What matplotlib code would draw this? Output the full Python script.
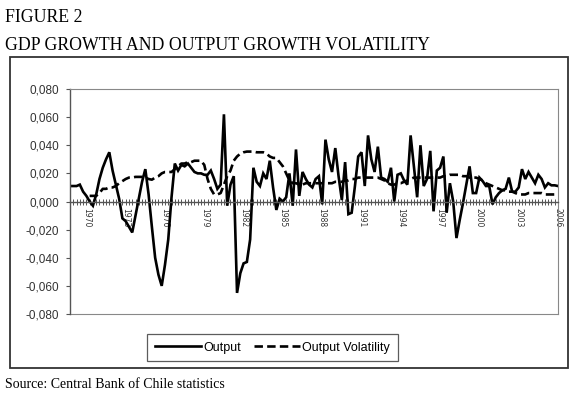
import numpy as np
import matplotlib
matplotlib.use("Agg")
from matplotlib import pyplot as plt
from matplotlib.patches import Rectangle

# Quarterly series
output_growth = [
    0.011, 0.011, 0.011, 0.012, 0.007, 0.004, 0.000, -0.003, 0.005, 0.016,
    0.024, 0.030, 0.035, 0.022, 0.012, 0.002, -0.012, -0.014, -0.018, -0.022,
    -0.010, 0.002, 0.014, 0.023, 0.005, -0.018, -0.040, -0.052, -0.060, -0.045,
    -0.027, 0.003, 0.027, 0.022, 0.026, 0.025, 0.027, 0.024, 0.021, 0.020,
    0.020, 0.019, 0.019, 0.022, 0.016, 0.009, 0.012, 0.062, -0.003, 0.012,
    0.018, -0.065, -0.051, -0.044, -0.043, -0.027, 0.024, 0.014, 0.011, 0.020,
    0.016, 0.029, 0.010, -0.006, 0.002, 0.000, 0.003, 0.020, -0.003, 0.037,
    0.004, 0.021, 0.016, 0.012, 0.010, 0.016, 0.018, -0.002, 0.044, 0.030,
    0.021, 0.038, 0.018, 0.001, 0.028, -0.009, -0.008, 0.011, 0.032, 0.035,
    0.011, 0.047, 0.030, 0.021, 0.039, 0.017, 0.016, 0.014, 0.024, 0.000,
    0.019, 0.020, 0.015, 0.012, 0.047, 0.025, 0.003, 0.040, 0.011, 0.016,
    0.036, -0.007, 0.022, 0.024, 0.032, -0.008, 0.013, 0.000, -0.026, -0.013,
    -0.001, 0.012, 0.025, 0.006, 0.006, 0.017, 0.0145, 0.011, 0.011, -0.002,
    0.003, 0.006, 0.008, 0.009, 0.017, 0.007, 0.007, 0.010, 0.023, 0.016,
    0.021, 0.017, 0.013, 0.019, 0.016, 0.010, 0.013, 0.0115, 0.0115, 0.011,
]

output_volatility = [
    None, None, None, None, None, None, 0.004, 0.004, 0.004, 0.006,
    0.009, 0.009, 0.010, 0.010, 0.011, 0.013, 0.0145, 0.016, 0.017, 0.017,
    0.0175, 0.0175, 0.0175, 0.017, 0.016, 0.0155, 0.017, 0.018, 0.020, 0.021,
    0.021, 0.021, 0.023, 0.025, 0.027, 0.027, 0.028, 0.028, 0.029, 0.029,
    0.029, 0.026, 0.016, 0.009, 0.005, 0.005, 0.006, 0.012, 0.018, 0.022,
    0.029, 0.032, 0.034, 0.035, 0.0355, 0.0355, 0.0355, 0.035, 0.035, 0.035,
    0.034, 0.032, 0.031, 0.031, 0.028, 0.025, 0.020, 0.015, 0.013, 0.013,
    0.012, 0.012, 0.013, 0.013, 0.013, 0.013, 0.013, 0.013, 0.013, 0.013,
    0.013, 0.014, 0.014, 0.014, 0.015, 0.015, 0.016, 0.016, 0.017, 0.017,
    0.017, 0.017, 0.017, 0.017, 0.017, 0.016, 0.015, 0.013, 0.012, 0.012,
    0.013, 0.013, 0.014, 0.015, 0.016, 0.017, 0.017, 0.017, 0.017, 0.017,
    0.017, 0.017, 0.017, 0.017, 0.018, 0.018, 0.019, 0.019, 0.019, 0.019,
    0.018, 0.018, 0.017, 0.017, 0.017, 0.016, 0.015, 0.013, 0.012, 0.011,
    0.010, 0.009, 0.008, 0.008, 0.007, 0.007, 0.006, 0.005, 0.005, 0.005,
    0.006, 0.006, 0.006, 0.006, 0.006, 0.005, 0.005, 0.005, 0.005, 0.005,
]

year_labels = ["1970", "1973", "1976", "1979", "1982", "1985", "1988",
               "1991", "1994", "1997", "2000", "2003", "2006"]
y_ticks = [-0.08, -0.06, -0.04, -0.02, 0.0, 0.02, 0.04, 0.06, 0.08]

W, H = 575, 398
SERIF = ["Liberation Serif", "DejaVu Serif"]
SANS = ["Liberation Sans", "DejaVu Sans"]

n = len(output_growth)
x = np.arange(n)
vol = np.array([np.nan if v is None else v for v in output_volatility], dtype=float)

fig = plt.figure(figsize=(W / 100, H / 100), dpi=100)

# outer chart frame
fig.patches.append(Rectangle((10 / W, 1 - 368 / H), 558 / W, 311 / H, transform=fig.transFigure,
                             fill=False, lw=1.3, ec="#333333"))

fig.text(5 / W, 1 - 18 / H, "FIGURE 2", family=SERIF, fontsize=12.8, va="center", ha="left")
fig.text(5 / W, 1 - 45 / H, "GDP GROWTH AND OUTPUT GROWTH VOLATILITY", family=SERIF, fontsize=12.8,
         va="center", ha="left")
fig.text(5 / W, 1 - 385 / H, "Source: Central Bank of Chile statistics", family=SERIF, fontsize=10,
         va="center", ha="left")

ax = fig.add_axes([70 / W, 1 - 314 / H, 488 / W, 225 / H])
out_line, = ax.plot(x, output_growth, color="black", lw=1.9, solid_joinstyle="miter")
vol_line, = ax.plot(x, vol, color="black", lw=1.9, dashes=(3.2, 1.6))

ax.set_xlim(0, n - 1)
ax.set_ylim(-0.08, 0.08)

label_pos = np.arange(5, n, 12)
ax.set_xticks(label_pos)
ax.set_xticks(x, minor=True)
ax.set_yticks(y_ticks)
ax.tick_params(axis="x", which="both", direction="inout", length=4, width=0.7, color="#555555", pad=3,
               labelrotation=270, labelsize=5.5, labelcolor="#333333")
ax.tick_params(axis="y", direction="out", length=3, width=0.8, color="#555555", pad=5,
               labelsize=8.5, labelcolor="#333333")
ax.set_xticklabels(year_labels, family=SANS)
ax.set_yticklabels([("%.3f" % v).replace(".", ",") for v in y_ticks], family=SANS)

ax.spines["bottom"].set_position(("data", 0))
ax.spines["bottom"].set_color("#555555")
ax.spines["bottom"].set_linewidth(1.0)
ax.spines["left"].set_color("#555555")
ax.spines["left"].set_linewidth(1.0)
for side in ("top", "right"):
    ax.spines[side].set_color("#888888")
    ax.spines[side].set_linewidth(0.8)
# plot area bottom border (the x axis itself sits at zero)
ax.plot([0, 1], [0, 0], transform=ax.transAxes, color="#888888", lw=0.8, clip_on=False)

leg = fig.legend([out_line, vol_line], ["Output", "Output Volatility"], loc="center",
                 bbox_to_anchor=(272.5 / W, 1 - 347.5 / H), bbox_transform=fig.transFigure,
                 ncol=2, frameon=True, fancybox=False, edgecolor="#333333", handlelength=3.7,
                 columnspacing=1.0, handletextpad=0.2, borderpad=0.6, prop={"family": SANS, "size": 9})
leg.get_frame().set_linewidth(0.9)

fig.savefig("out.png", dpi=100, facecolor="white")
